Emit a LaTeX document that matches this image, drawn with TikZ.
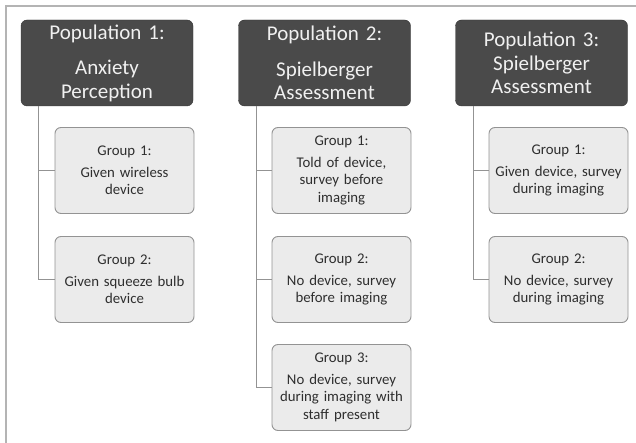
\documentclass[tikz,border=0pt]{standalone}
\usepackage{fontspec}
\setmainfont{Carlito}
\usetikzlibrary{positioning}

\definecolor{popfill}{HTML}{4A4A4A}
\definecolor{grpfill}{HTML}{EBEBEB}
\definecolor{linegray}{HTML}{939393}
\definecolor{framegray}{HTML}{B4B4B4}

\tikzset{
  popbox/.style={draw=popfill!70!black, fill=popfill, rounded corners=6pt,
    minimum width=172pt, minimum height=86pt, text width=165pt, inner sep=0pt,
    align=center, text=white!94!black, font=\fontsize{21}{23.5}\selectfont},
  grpbox/.style={draw=linegray, line width=0.9pt, fill=grpfill, rounded corners=6pt,
    minimum width=139pt, minimum height=86pt, text width=135pt, inner sep=0pt,
    align=center, text=black!82, font=\fontsize{14.8}{17.5}\selectfont},
  branch/.style={draw=linegray, line width=1pt}
}

\begin{document}
\begin{tikzpicture}[x=1pt, y=-1pt]
    \useasboundingbox (0,0) rectangle (636,443);

    % Frame
    \draw[framegray, line width=2pt] (6,443) -- (6,6) -- (636,6);

    % Populations
    \node[popbox] (pop1) at (107,63) {Population 1:\\[12pt]Anxiety\\Perception};
    \node[popbox] (pop2) at (324.5,63) {Population 2:\\[12pt]Spielberger\\Assessment};
    \node[popbox] (pop3) at (541.5,63) {Population 3:\\Spielberger\\Assessment};

    % Groups
    \foreach \n/\x/\y/\txt in {
        g11/124.5/170.5/{Group 1:\\[4pt]Given wireless\\device},
        g12/124.5/279.5/{Group 2:\\[4pt]Given squeeze bulb\\device},
        g21/341.5/170.5/{Group 1:\\[4pt]Told of device,\\survey before\\imaging},
        g22/341.5/279.5/{Group 2:\\[4pt]No device, survey\\before imaging},
        g23/341.5/387.5/{Group 3:\\[4pt]No device, survey\\during imaging with\\staff present},
        g31/558.5/170.5/{Group 1:\\[4pt]Given device, survey\\during imaging},
        g32/558.5/279.5/{Group 2:\\[4pt]No device, survey\\during imaging}} {
      \node[grpbox] (\n) at (\x,\y) {\txt};
    }

    % Branches
    \draw[branch] ([xshift=18pt]pop1.south west) |- (g12.west);
    \draw[branch] ([xshift=18pt]pop1.south west) |- (g11.west);
    \draw[branch] ([xshift=18pt]pop2.south west) |- (g23.west);
    \draw[branch] ([xshift=18pt]pop2.south west) |- (g22.west);
    \draw[branch] ([xshift=18pt]pop2.south west) |- (g21.west);
    \draw[branch] ([xshift=18pt]pop3.south west) |- (g32.west);
    \draw[branch] ([xshift=18pt]pop3.south west) |- (g31.west);

\end{tikzpicture}
\end{document}
